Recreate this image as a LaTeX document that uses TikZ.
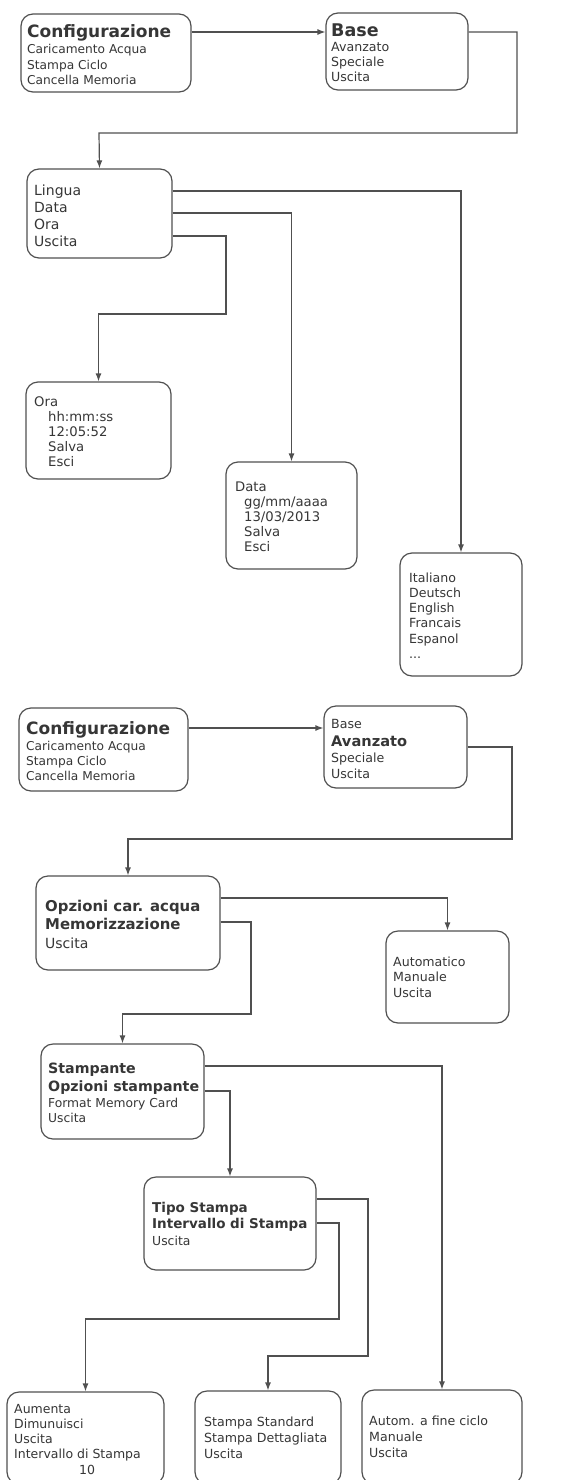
\documentclass[tikz,border=0pt]{standalone}
\usepackage{fontspec}
\setmainfont{DejaVu Sans}
\usetikzlibrary{arrows.meta}
\definecolor{linec}{HTML}{505050}
\definecolor{textc}{HTML}{363636}
\newcommand{\fsz}[2]{\fontsize{#1}{#2}\selectfont}
\newcommand{\hd}[1]{{\fsz{17}{18}\bfseries #1}}
\begin{document}
\begin{tikzpicture}[x=1pt,y=-1pt,
  box/.style={draw=linec, line width=1.2pt, rounded corners=12pt, inner sep=0pt},
  txt/.style={anchor=base west, inner sep=0pt, text=textc},
  arr/.style={draw=linec, line width=1.2pt, -{Latex[length=8pt,width=6pt]}}]
\useasboundingbox (0,0) rectangle (569,1480);
\fill[white] (0,0) rectangle (569,1480);
\clip (0,0) rectangle (569,1480);

% ---------- top diagram ----------
\node[box, minimum width=170pt, minimum height=78pt] (cfgA) at (106,53) {};
\node[txt, font=\fsz{12.2}{15.3}] (cfgAt) at (27,38) {\begin{tabular}[t]{@{}l@{}}\hd{Configurazione}\\[0.7pt]Caricamento Acqua\\Stampa Ciclo\\Cancella Memoria\end{tabular}};

\node[box, minimum width=142pt, minimum height=77pt] (baseA) at (397,51.5) {};
\node[txt, font=\fsz{12.6}{15}] (baseAt) at (331,37) {\begin{tabular}[t]{@{}l@{}}{\fsz{17.5}{18}\bfseries Base}\\Avanzato\\Speciale\\Uscita\end{tabular}};

\node[box, minimum width=145pt, minimum height=89pt] (lingua) at (99.5,213.5) {};
\node[txt, font=\fsz{14}{17}] (linguat) at (34,195) {\begin{tabular}[t]{@{}l@{}}Lingua\\Data\\Ora\\Uscita\end{tabular}};

\node[box, minimum width=145pt, minimum height=97pt] (ora) at (98.5,430.5) {};
\node[txt, font=\fsz{13.2}{15.2}] (orat) at (34,406) {\begin{tabular}[t]{@{}l@{}}Ora\\\hspace*{14pt}hh:mm:ss\\\hspace*{14pt}12:05:52\\\hspace*{14pt}Salva\\\hspace*{14pt}Esci\end{tabular}};

\node[box, minimum width=131pt, minimum height=107pt] (data) at (291.5,515.5) {};
\node[txt, font=\fsz{13.2}{15.2}] (datat) at (235,491) {\begin{tabular}[t]{@{}l@{}}Data\\\hspace*{9pt}gg/mm/aaaa\\\hspace*{9pt}13/03/2013\\\hspace*{9pt}Salva\\\hspace*{9pt}Esci\end{tabular}};

\node[box, minimum width=122pt, minimum height=123pt] (lang) at (461,614.5) {};
\node[txt, font=\fsz{12.6}{15.3}] (langt) at (409,582) {\begin{tabular}[t]{@{}l@{}}Italiano\\Deutsch\\English\\Francais\\Espanol\\...\end{tabular}};

\draw[arr] (cfgA.east |- 0,32) -- (baseA.west |- 0,32);
\draw[arr] (baseA.east |- 0,32) -- (517,32) |- (99,133) -- (lingua.north);
\draw[arr] (lingua.east |- 0,191) -| (lang.north);
\draw[arr] (lingua.east |- 0,213) -| (data.north);
\draw[arr] (lingua.east |- 0,236) -- (226,236) |- (98.5,314) -- (ora.north);

% ---------- bottom diagram ----------
\node[box, minimum width=169pt, minimum height=83pt] (cfgB) at (103.5,749.5) {};
\node[txt, font=\fsz{12.2}{15.3}] (cfgBt) at (26,734) {\begin{tabular}[t]{@{}l@{}}\hd{Configurazione}\\[0.7pt]Caricamento Acqua\\Stampa Ciclo\\Cancella Memoria\end{tabular}};

\node[box, minimum width=143pt, minimum height=82pt] (baseB) at (395.5,747) {};
\node[txt, font=\fsz{12.6}{16}] (baseBt) at (331,728) {\begin{tabular}[t]{@{}l@{}}Base\\[2pt]{\fsz{14.6}{16}\bfseries Avanzato}\\Speciale\\Uscita\end{tabular}};

\node[box, minimum width=184pt, minimum height=94pt] (opz) at (128,923) {};
\node[txt, font=\fsz{14.9}{18}] (opzt) at (45,911) {\begin{tabular}[t]{@{}l@{}}{\bfseries Opzioni car. acqua}\\{\bfseries Memorizzazione}\\[1pt]{\fsz{14}{17}Uscita}\end{tabular}};

\node[box, minimum width=123pt, minimum height=92pt] (auto) at (447.5,977) {};
\node[txt, font=\fsz{12.6}{15.5}] (autot) at (393,966) {\begin{tabular}[t]{@{}l@{}}Automatico\\Manuale\\Uscita\end{tabular}};

\node[box, minimum width=163pt, minimum height=95pt] (stamp) at (122.5,1091.5) {};
\node[txt, font=\fsz{12.3}{15.5}] (stampt) at (48,1073) {\begin{tabular}[t]{@{}l@{}}{\fsz{14.2}{17}\bfseries Stampante}\\[2.5pt]{\fsz{14.2}{17}\bfseries Opzioni stampante}\\[0.5pt]Format Memory Card\\Uscita\end{tabular}};

\node[box, minimum width=172pt, minimum height=93pt] (tipo) at (230,1223.5) {};
\node[txt, font=\fsz{13.5}{16}] (tipot) at (152,1212) {\begin{tabular}[t]{@{}l@{}}{\bfseries Tipo Stampa}\\{\bfseries Intervallo di Stampa}\\[1pt]{\fsz{12.4}{15}Uscita}\end{tabular}};

\node[box, minimum width=157pt, minimum height=92pt] (aum) at (85.5,1438) {};
\node[txt, font=\fsz{12.5}{15.3}] (aumt) at (14,1413) {\begin{tabular}[t]{@{}l@{}}Aumenta\\Dimunuisci\\Uscita\\Intervallo di Stampa\\\hspace*{65pt}10\end{tabular}};

\node[box, minimum width=146pt, minimum height=93pt] (std) at (268,1437.5) {};
\node[txt, font=\fsz{12.6}{16}] (stdt) at (204,1426) {\begin{tabular}[t]{@{}l@{}}Stampa Standard\\Stampa Dettagliata\\Uscita\end{tabular}};

\node[box, minimum width=160pt, minimum height=94pt] (autom) at (442,1437) {};
\node[txt, font=\fsz{12.6}{16}] (automt) at (369,1425) {\begin{tabular}[t]{@{}l@{}}Autom. a fine ciclo\\Manuale\\Uscita\end{tabular}};

\draw[arr] (cfgB.east |- 0,728) -- (baseB.west |- 0,728);
\draw[arr] (baseB.east |- 0,747) -- (512,747) |- (128,839) -- (opz.north);
\draw[arr] (opz.east |- 0,898) -| (auto.north);
\draw[arr] (opz.east |- 0,922) -- (251,922) |- (122.5,1014) -- (stamp.north);
\draw[arr] (stamp.east |- 0,1066) -| (autom.north);
\draw[arr] (stamp.east |- 0,1091) -| (tipo.north);
\draw[arr] (tipo.east |- 0,1199) -- (368,1199) |- (268,1356) -- (std.north);
\draw[arr] (tipo.east |- 0,1223) -- (339,1223) |- (85.5,1319) -- (aum.north);
\end{tikzpicture}
\end{document}
